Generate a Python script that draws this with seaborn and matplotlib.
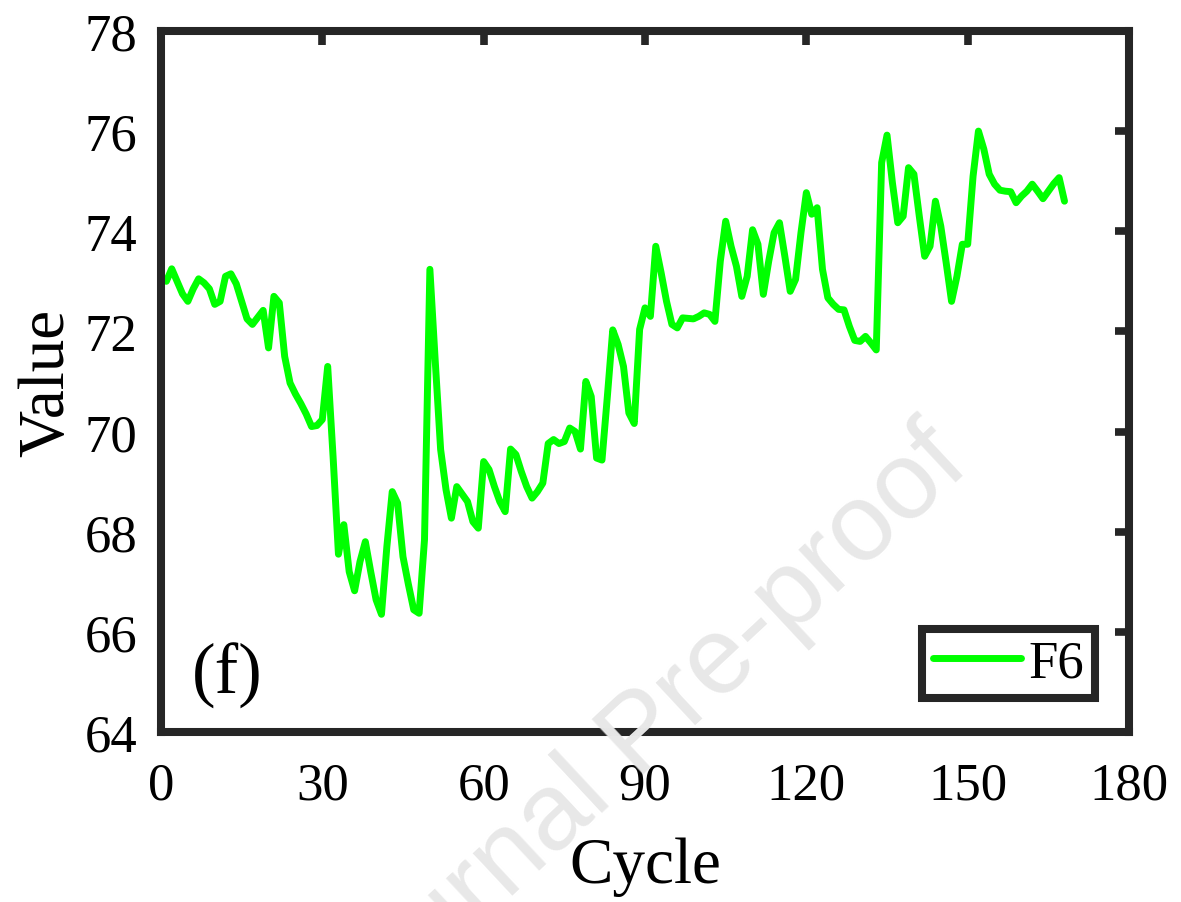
import numpy as np
import pandas as pd
import matplotlib
matplotlib.use("Agg")
import matplotlib.pyplot as plt
import seaborn as sns

cycles = list(range(1, 169))
values = [
    73.0, 73.25, 73.0, 72.75, 72.6, 72.85, 73.05, 72.97, 72.85, 72.54,
    72.6, 73.1, 73.15, 72.95, 72.6, 72.25, 72.14, 72.28, 72.42, 71.67,
    72.7, 72.57, 71.5, 70.97, 70.75, 70.56, 70.35, 70.1, 70.12, 70.24,
    71.3, 69.5, 67.55, 68.14, 67.2, 66.82, 67.4, 67.8, 67.2, 66.64,
    66.35, 67.7, 68.8, 68.57, 67.5, 66.95, 66.44, 66.37, 67.84, 73.24,
    71.4, 69.64, 68.84, 68.27, 68.9, 68.75, 68.6, 68.2, 68.07, 69.4,
    69.24, 68.9, 68.6, 68.4, 69.65, 69.54, 69.2, 68.9, 68.67, 68.8,
    68.97, 69.76, 69.84, 69.76, 69.8, 70.07, 70.0, 69.65, 71.0, 70.7,
    69.47, 69.43, 70.7, 72.03, 71.74, 71.3, 70.37, 70.16, 72.04, 72.47,
    72.3, 73.7, 73.17, 72.6, 72.14, 72.07, 72.27, 72.26, 72.25, 72.3,
    72.37, 72.34, 72.2, 73.4, 74.2, 73.7, 73.3, 72.7, 73.1, 74.03,
    73.74, 72.74, 73.4, 73.97, 74.17, 73.5, 72.8, 73.04, 73.97, 74.77,
    74.34, 74.47, 73.24, 72.67, 72.54, 72.44, 72.43, 72.1, 71.82, 71.8,
    71.9, 71.77, 71.63, 75.37, 75.92, 74.97, 74.17, 74.3, 75.27, 75.14,
    74.3, 73.5, 73.7, 74.6, 74.1, 73.37, 72.6, 73.1, 73.74, 73.74,
    75.1, 76.0, 75.64, 75.14, 74.94, 74.82, 74.8, 74.79, 74.57, 74.7,
    74.8, 74.94, 74.8, 74.65, 74.8, 74.95, 75.07, 74.6,
]
series_name = "F6"
x_ticks = [0, 30, 60, 90, 120, 150, 180]
y_ticks = [64, 66, 68, 70, 72, 74, 76, 78]

sns.set_style("white")
plt.rcParams['font.family'] = ['Liberation Serif', 'DejaVu Serif']
plt.rcParams['text.color'] = 'black'
plt.rcParams['axes.labelcolor'] = 'black'

df = pd.DataFrame({"Cycle": cycles, "Value": values, "Series": series_name})

fig = plt.figure(figsize=(11.81, 9.03), dpi=100)
ax = fig.add_axes([0.1363, 0.1883, 0.8197, 0.7763])

# watermark
fig.text(0.5436, 0.184, "Journal Pre-proof", fontsize=79, color="#e8e8e8",
         rotation=43, ha="center", va="center", family="Liberation Sans",
         zorder=0)
ax.set_facecolor("none")

sns.lineplot(data=df, x="Cycle", y="Value", hue="Series",
             palette={series_name: "#00ff00"}, linewidth=5, ax=ax)

ax.set_xlim(0, 180)
ax.set_ylim(64, 78)
ax.set_xticks(x_ticks)
ax.set_yticks(y_ticks)
ax.tick_params(axis="both", which="both", direction="in", length=10, width=5.5,
               color="#262626", labelsize=38, labelcolor="black",
               top=True, right=True)
ax.tick_params(axis="x", pad=21)
ax.tick_params(axis="y", pad=17)
for s in ax.spines.values():
    s.set_linewidth(5.8)
    s.set_color("#262626")
    s.set_visible(True)

ax.set_xlabel("Cycle", fontsize=47, labelpad=20)
ax.set_ylabel("Value", fontsize=47, labelpad=5)

ax.text(0.032, 0.081, "(f)", transform=ax.transAxes, fontsize=51,
        ha="left", va="center")

leg = ax.legend(loc="lower right", bbox_to_anchor=(0.965, 0.0485),
                borderaxespad=0, fontsize=38, frameon=True, fancybox=False,
                framealpha=1, handlelength=1.67, handletextpad=0.15,
                borderpad=0.2)
leg.get_frame().set_linewidth(5.8)
leg.get_frame().set_edgecolor("#262626")
for line in leg.get_lines():
    line.set_linewidth(5)

fig.savefig("out.png", dpi=100, facecolor="white")
